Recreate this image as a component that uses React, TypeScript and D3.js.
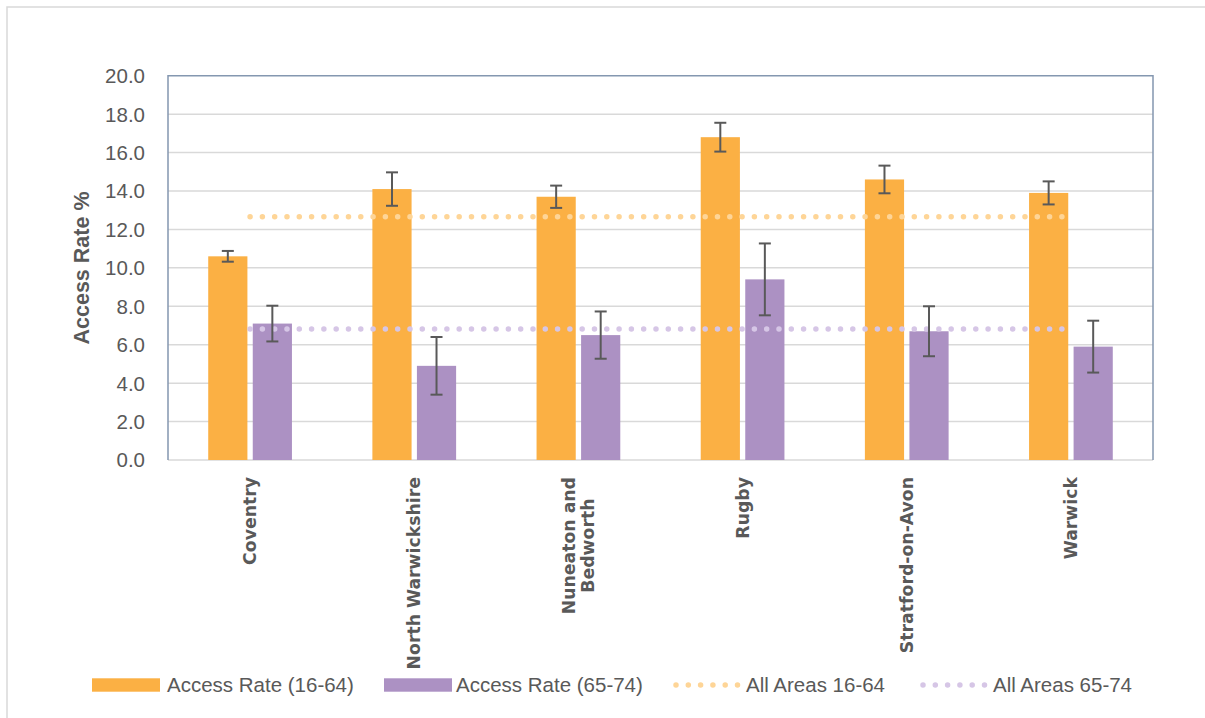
import React, { useEffect, useRef } from "react";
import * as d3 from "d3";

const categories = ["Coventry", "North Warwickshire", "Nuneaton and\nBedworth", "Rugby", "Stratford-on-Avon", "Warwick"];
const rate1664 = [10.6, 14.1, 13.7, 16.8, 14.6, 13.9];
const err1664 = [0.28, 0.87, 0.58, 0.75, 0.72, 0.6];
const rate6574 = [7.1, 4.9, 6.5, 9.4, 6.7, 5.9];
const err6574 = [0.93, 1.5, 1.23, 1.87, 1.3, 1.35];
const allAreas1664 = 12.66;
const allAreas6574 = 6.82;
const yTicks = [0, 2, 4, 6, 8, 10, 12, 14, 16, 18, 20];
const seriesNames = ["Access Rate (16-64)", "Access Rate (65-74)", "All Areas 16-64", "All Areas 65-74"];

const W = 1205, H = 718;
const ORANGE = "#fbb044";
const PURPLE = "#ac91c3";
const ORANGE_DOT = "#fed597";
const PURPLE_DOT = "#d6c6e6";
const TEXT = "#595959";
const SANS = "'Liberation Sans', Arial, sans-serif";

export default function App() {
  const ref = useRef<SVGSVGElement>(null);
  useEffect(() => {
    const svg = d3.select(ref.current);
    svg.selectAll("*").remove();
    const left = 168, right = 1153, top = 75.7, bottom = 460;

    svg.append("rect").attr("x", 7).attr("y", 7).attr("width", W).attr("height", H)
      .attr("fill", "white").attr("stroke", "#d9d9d9").attr("stroke-width", 1.5);

    const y = d3.scaleLinear().domain([0, 20]).range([bottom, top]);
    const x0 = d3.scaleBand().domain(categories).range([left, right]).paddingInner(0.49).paddingOuter(0.245);
    const x1 = d3.scaleBand().domain(["a", "b"]).range([0, x0.bandwidth()]).paddingInner(0.12);
    const center = (c: string) => (x0(c) as number) + x0.bandwidth() / 2;

    // gridlines
    svg.append("g").selectAll("line").data(yTicks.filter(t => t < 20)).join("line")
      .attr("x1", left).attr("x2", right).attr("y1", d => y(d)).attr("y2", d => y(d))
      .attr("stroke", "#d9d9d9").attr("stroke-width", 1.5);

    // tick labels
    svg.append("g").selectAll("text").data(yTicks).join("text")
      .attr("x", 145).attr("y", d => y(d)).attr("dy", "0.36em").attr("text-anchor", "end")
      .attr("font-family", SANS).attr("font-size", 20.5).attr("fill", TEXT)
      .text(d => d.toFixed(1));

    // plot border (left, top, right)
    svg.append("path")
      .attr("d", `M${left},${bottom}V${top}H${right}V${bottom}`)
      .attr("fill", "none").attr("stroke", "#8497b0").attr("stroke-width", 1.5);

    // bars
    const series = [
      { key: "a", vals: rate1664, errs: err1664, color: ORANGE },
      { key: "b", vals: rate6574, errs: err6574, color: PURPLE },
    ];
    series.forEach(s => {
      const g = svg.append("g");
      g.selectAll("rect").data(categories).join("rect")
        .attr("x", c => (x0(c) as number) + (x1(s.key) as number))
        .attr("width", x1.bandwidth())
        .attr("y", (c, i) => y(s.vals[i]))
        .attr("height", (c, i) => y(0) - y(s.vals[i]))
        .attr("fill", s.color);
    });

    // dotted average lines
    const line = d3.line<number>().x(d => d).y(0);
    const first = center(categories[0]), last = center(categories[categories.length - 1]);
    [[allAreas1664, ORANGE_DOT], [allAreas6574, PURPLE_DOT]].forEach(([v, col]) => {
      svg.append("path")
        .attr("d", line([first, last]))
        .attr("transform", `translate(0,${y(v as number)})`)
        .attr("stroke", col as string).attr("stroke-width", 5.5).attr("stroke-linecap", "round")
        .attr("stroke-dasharray", "0 12.3").attr("fill", "none");
    });

    // error bars
    series.forEach(s => {
      categories.forEach((c, i) => {
        const cx = (x0(c) as number) + (x1(s.key) as number) + x1.bandwidth() / 2;
        const hi = y(s.vals[i] + s.errs[i]), lo = y(s.vals[i] - s.errs[i]);
        const g = svg.append("g").attr("stroke", TEXT).attr("stroke-width", 2);
        g.append("line").attr("x1", cx).attr("x2", cx).attr("y1", hi).attr("y2", lo);
        g.append("line").attr("x1", cx - 6).attr("x2", cx + 6).attr("y1", hi).attr("y2", hi);
        g.append("line").attr("x1", cx - 6).attr("x2", cx + 6).attr("y1", lo).attr("y2", lo);
      });
    });

    // x labels
    categories.forEach(c => {
      const lines = c.split("\n");
      const cx = center(c);
      const t = svg.append("text")
        .attr("font-family", "'DejaVu Sans', Verdana, sans-serif").attr("font-weight", "bold")
        .attr("font-size", 17.3).attr("fill", TEXT).attr("text-anchor", "middle");
      const spans = lines.map((ln) => t.append("tspan").text(ln));
      const widths = spans.map(sp => (sp.node() as SVGTSpanElement).getComputedTextLength());
      const maxW = Math.max(...widths);
      const lh = 19;
      const yEnd = 477;
      const midLocalX = -(yEnd + maxW / 2);
      spans.forEach((sp, i) => {
        const off = (i - (lines.length - 1) / 2) * lh;
        sp.attr("x", midLocalX).attr("y", cx + off).attr("dy", "0.36em");
      });
      t.attr("transform", "rotate(-90)");
    });

    // y title
    svg.append("text")
      .attr("transform", `translate(81,268) rotate(-90)`)
      .attr("text-anchor", "middle").attr("dy", "0.36em")
      .attr("font-family", SANS).attr("font-weight", "bold").attr("font-size", 21.5).attr("fill", TEXT)
      .text("Access Rate %");

    // legend
    const lg = svg.append("g");
    const ly = 685;
    const items = [
      { type: "rect", color: ORANGE, x: 92, tx: 167 },
      { type: "rect", color: PURPLE, x: 384, tx: 456 },
      { type: "dot", color: ORANGE_DOT, x: 676, tx: 746 },
      { type: "dot", color: PURPLE_DOT, x: 923, tx: 993 },
    ];
    items.forEach((it, i) => {
      if (it.type === "rect") {
        lg.append("rect").attr("x", it.x).attr("y", ly - 6.7).attr("width", 68).attr("height", 13.4).attr("fill", it.color);
      } else {
        lg.append("path").attr("d", line([it.x, it.x + 62])).attr("transform", `translate(0,${ly})`)
          .attr("stroke", it.color).attr("stroke-width", 5.5).attr("stroke-linecap", "round")
          .attr("stroke-dasharray", "0 12.3").attr("fill", "none");
      }
      lg.append("text").attr("x", it.tx).attr("y", ly).attr("dy", "0.36em")
        .attr("font-family", SANS).attr("font-size", 20.5).attr("fill", TEXT)
        .text(seriesNames[i]);
    });
  }, []);

  return (
    <svg ref={ref} width={W} height={H}
      style={{ position: "absolute", left: 0, top: 0, display: "block", background: "white" }} />
  );
}
